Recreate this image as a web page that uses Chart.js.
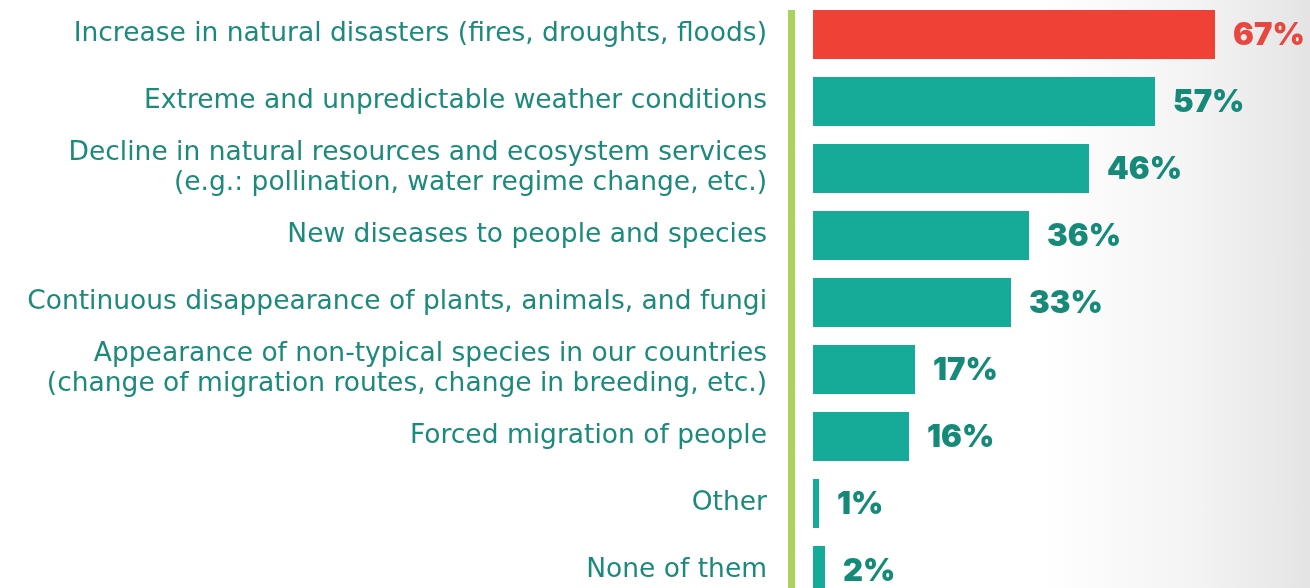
<!DOCTYPE html>
<html>
<head>
<meta charset="utf-8">
<script src="https://cdn.jsdelivr.net/npm/chart.js@4"></script>
<style>
  html, body { margin: 0; padding: 0; overflow: hidden; }
  body {
    width: 1310px; height: 588px;
    background: linear-gradient(to right, #ffffff 0px, #ffffff 1040px, #f3f3f3 1200px, #e4e4e4 1310px);
  }
  /* el area de barras sigue por debajo del borde inferior */
  #wrap { position: relative; width: 1310px; height: 633px; margin-top: -14px; }
</style>
</head>
<body>
<div id="wrap"><canvas id="riesgos"></canvas></div>
<script>
// Categorias (las de dos lineas van como arreglo)
var categorias = [
    "Increase in natural disasters (fires, droughts, floods)",
    "Extreme and unpredictable weather conditions",
    ["Decline in natural resources and ecosystem services", "(e.g.: pollination, water regime change, etc.)"],
    "New diseases to people and species",
    "Continuous disappearance of plants, animals, and fungi",
    ["Appearance of non-typical species in our countries", "(change of migration routes, change in breeding, etc.)"],
    "Forced migration of people",
    "Other",
    "None of them"
];
var porcentajes = [67, 57, 46, 36, 33, 17, 16, 1, 2];
var destacado = 0; // barra resaltada en rojo

var rojo = "#ef4136";
var rojoTexto = "#e8473f";
var verde = "#16ab99";
var verdeTexto = "#168a79";
var etiquetaColor = "#1b8a7b";

var colores = porcentajes.map(function(v, i) { return i === destacado ? rojo : verde; });
var coloresTexto = porcentajes.map(function(v, i) { return i === destacado ? rojoTexto : verdeTexto; });

// Linea vertical verde junto al eje
var lineaEje = {
    id: "lineaEje",
    beforeDatasetsDraw: function(chart) {
        var ctx = chart.ctx;
        var area = chart.chartArea;
        var primera = chart.getDatasetMeta(0).data[0];
        var top = primera.y - primera.height / 2;
        ctx.save();
        ctx.fillStyle = "#abd25b";
        ctx.fillRect(area.left, top, 7, chart.height - top);
        ctx.restore();
    }
};

// Porcentaje al final de cada barra
var etiquetasValor = {
    id: "etiquetasValor",
    afterDatasetsDraw: function(chart) {
        var ctx = chart.ctx;
        var meta = chart.getDatasetMeta(0);
        ctx.save();
        ctx.font = "900 31px Inter, 'Open Sans', sans-serif";
        ctx.textAlign = "left";
        ctx.textBaseline = "middle";
        meta.data.forEach(function(bar, i) {
            ctx.fillStyle = coloresTexto[i];
            ctx.fillText(porcentajes[i] + "%", bar.x + 18, bar.y + 1);
        });
        ctx.restore();
    }
};

var riesgosChart = document.querySelector("#riesgos");
var riesgos = new Chart(riesgosChart, {
    type: "bar",
    data: {
        labels: categorias,
        datasets: [{
            label: "Respuestas",
            data: porcentajes,
            backgroundColor: colores,
            borderWidth: 0,
            categoryPercentage: 1,
            barPercentage: 0.731
        }]
    },
    options: {
        indexAxis: "y",
        responsive: true,
        maintainAspectRatio: false,
        animation: false,
        layout: { padding: 0 },
        plugins: {
            legend: { display: false },
            tooltip: { enabled: false }
        },
        scales: {
            x: {
                display: false,
                min: -4.17,
                max: 82.83
            },
            y: {
                // la separacion entre texto y eje va como largo de marca (sin dibujarla)
                grid: { display: false, drawTicks: true, tickLength: 21 },
                border: { display: false },
                afterFit: function(scale) { scale.width = 788; },
                ticks: {
                    autoSkip: false,
                    padding: 0,
                    color: etiquetaColor,
                    font: { family: "'DejaVu Sans', sans-serif", size: 26.5, lineHeight: "30px" }
                }
            }
        }
    },
    plugins: [lineaEje, etiquetasValor]
});
</script>
</body>
</html>
